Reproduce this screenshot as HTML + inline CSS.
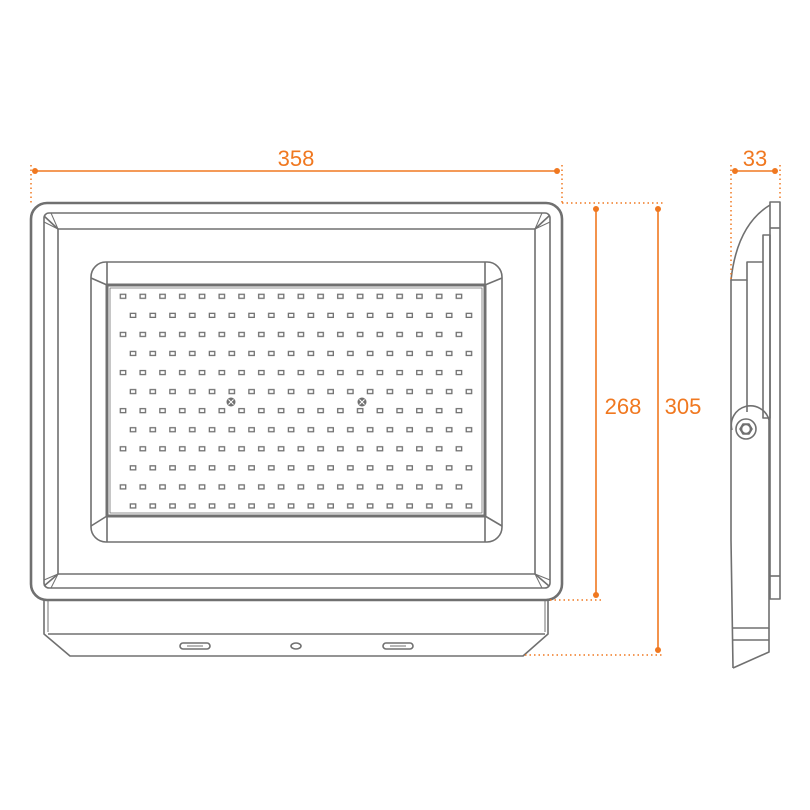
<!DOCTYPE html>
<html><head><meta charset="utf-8"><style>html,body{margin:0;padding:0;background:#fff}svg{display:block}</style></head>
<body>
<svg width="810" height="810" viewBox="0 0 810 810" xmlns="http://www.w3.org/2000/svg">
<defs>
  <pattern id="led" patternUnits="userSpaceOnUse" x="118.12" y="286.8" width="19.76" height="38.12">
    <rect x="2.2" y="7.5" width="5.4" height="4" fill="none" stroke="#707070" stroke-width="1.3"/>
    <rect x="12.2" y="26.56" width="5.4" height="4" fill="none" stroke="#707070" stroke-width="1.3"/>
  </pattern>
</defs>
<g fill="none" stroke="#707070" stroke-width="1.6" stroke-linejoin="round">
  <rect x="31" y="203" width="531" height="397" rx="16" stroke-width="2.6"/>
  <rect x="44" y="213" width="506" height="375" rx="5"/>
  <rect x="58" y="229" width="477" height="345"/>
  <line x1="44" y1="216" x2="58" y2="229"/><line x1="549" y1="216" x2="535" y2="229"/>
  <line x1="44" y1="586" x2="58" y2="574"/><line x1="549" y1="586" x2="535" y2="574"/>
  <path d="M51 213 L58 229 M44 222 L58 229 M542 213 L535 229 M550 222 L535 229 M44 580 L58 574 M51 588 L58 574 M550 580 L535 574 M542 588 L535 574" stroke-width="1"/>
  <rect x="91" y="262" width="411" height="280" rx="15"/>
  <rect x="107" y="285" width="378" height="231" stroke-width="3"/>
  <rect x="110" y="288" width="372" height="225" stroke-width="0.8"/>
  <line x1="107" y1="262" x2="107" y2="285"/><line x1="485" y1="262" x2="485" y2="285"/>
  <line x1="107" y1="516" x2="107" y2="542"/><line x1="485" y1="516" x2="485" y2="542"/>
  <line x1="91" y1="278" x2="107" y2="285"/><line x1="502" y1="278" x2="485" y2="285"/>
  <line x1="91" y1="526" x2="107" y2="516"/><line x1="502" y1="526" x2="485" y2="516"/>
  <path d="M44 600 L44 634 L70 656 L523 656 L548 634 L548 600"/>
  <line x1="48" y1="634" x2="545" y2="634"/>
  <path d="M48 600 L48 632 M545 600 L545 632" stroke-width="1"/>
  <rect x="180" y="643" width="30" height="6" rx="3"/>
  <line x1="187" y1="646" x2="203" y2="646" stroke-width="1"/>
  <rect x="383" y="643" width="30" height="6" rx="3"/>
  <line x1="390" y1="646" x2="406" y2="646" stroke-width="1"/>
  <ellipse cx="296" cy="646" rx="5" ry="3"/>
</g>
<rect x="118.12" y="286.8" width="355.68" height="228.72" fill="url(#led)"/>
<g fill="#707070">
  <circle cx="231" cy="402" r="4.5"/><circle cx="362" cy="402" r="4.5"/>
</g>
<g stroke="#fff" stroke-width="1"><path d="M228.5 399.5 L233.5 404.5 M233.5 399.5 L228.5 404.5 M359.5 399.5 L364.5 404.5 M364.5 399.5 L359.5 404.5"/></g>
<g fill="none" stroke="#707070" stroke-width="1.6" stroke-linejoin="round">
  <rect x="770" y="202" width="10" height="397"/>
  <line x1="770" y1="228" x2="780" y2="228"/><line x1="770" y1="576" x2="780" y2="576"/>
  <rect x="763" y="235" width="7" height="183"/>
  <path d="M770 205 Q737 225 731 280 L747 280 L747 262 L763 262"/>
  <path d="M731 280 L731 540 L733 668"/>
  <path d="M747 280 L747 412"/>
  <path d="M732 430 A15 15 0 0 1 769 420 L769 628 L733 628"/>
  <path d="M733 640 L769 640 L769 628 M733 668 L769 652 L769 640"/>
  <circle cx="746" cy="429" r="10"/>
  <polygon points="752,429 749,434 743,434 740,429 743,424 749,424"/>
  <circle cx="746" cy="429" r="4.5"/>
</g>
<g stroke="#f07820" fill="#f07820">
  <g stroke-width="1.5" stroke-dasharray="1.5,3" fill="none">
    <line x1="31" y1="165" x2="31" y2="203"/><line x1="562" y1="165" x2="562" y2="203"/>
    <line x1="562" y1="203" x2="664" y2="203"/>
    <line x1="550" y1="600" x2="602" y2="600"/>
    <line x1="525" y1="655" x2="664" y2="655"/>
    <line x1="731" y1="165" x2="731" y2="280"/><line x1="780" y1="165" x2="780" y2="200"/>
  </g>
  <g stroke-width="1.6">
    <line x1="35" y1="171" x2="557" y2="171"/>
    <line x1="596" y1="208" x2="596" y2="595"/>
    <line x1="658" y1="208" x2="658" y2="650"/>
    <line x1="735" y1="171" x2="775" y2="171"/>
  </g>
  <g stroke="none">
    <circle cx="35" cy="171" r="3"/><circle cx="557" cy="171" r="3"/>
    <circle cx="596" cy="209" r="3"/><circle cx="596" cy="595" r="3"/>
    <circle cx="658" cy="209" r="3"/><circle cx="658" cy="650" r="3"/>
    <circle cx="735" cy="171" r="3"/><circle cx="775" cy="171" r="3"/>
  </g>
  <g stroke="none" font-family="Liberation Sans, sans-serif" font-size="22" text-anchor="middle">
    <text x="296" y="166">358</text>
    <text x="623" y="414">268</text>
    <text x="683" y="414">305</text>
    <text x="755" y="166">33</text>
  </g>
</g>
</svg>
</body></html>
